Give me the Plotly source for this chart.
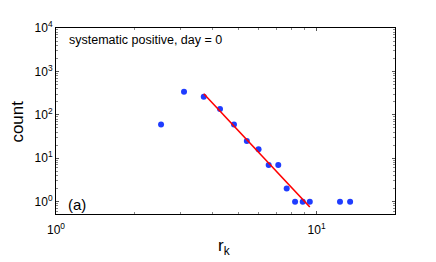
import numpy as np
import plotly.graph_objects as go

# data
r_k = [2.53, 3.10, 3.69, 4.26, 4.82, 5.40, 5.99, 6.55, 7.13, 7.68, 8.27, 8.85, 9.42, 12.3, 13.45]
counts = [60, 340, 260, 137, 60, 25, 16, 7, 7, 2, 1, 1, 1, 1, 1]
fit_x = [3.69, 9.42]
fit_y = [305, 0.75]

x_tickvals = [1, 10]
x_ticktext = ["10<sup>0</sup>", "10<sup>1</sup>"]
y_tickvals = [1, 10, 100, 1000, 10000]
y_ticktext = ["10<sup>0</sup>", "10<sup>1</sup>", "10<sup>2</sup>", "10<sup>3</sup>", "10<sup>4</sup>"]

FONT = "Liberation Sans, Arial, Helvetica, sans-serif"

fig = go.Figure()
fig.add_trace(go.Scatter(x=r_k, y=counts, mode="markers",
                         marker=dict(color="#1f3cff", size=6, line=dict(width=0)),
                         showlegend=False))
fig.add_trace(go.Scatter(x=fit_x, y=fit_y, mode="lines",
                         line=dict(color="#ff0000", width=1.6),
                         showlegend=False))

axis_common = dict(
    showline=True, linecolor="black", linewidth=1, mirror="ticks",
    ticks="inside", ticklen=3, tickcolor="#555", tickwidth=1,
    showgrid=False, zeroline=False,
    tickfont=dict(family=FONT, size=12, color="black"),
    minor=dict(ticks="inside", ticklen=2, tickcolor="#888", dtick="D1", showgrid=False),
)

fig.update_xaxes(type="log", range=[0, np.log10(20)], tickvals=x_tickvals,
                 ticktext=x_ticktext, ticklabelstandoff=5, **axis_common)
fig.update_yaxes(type="log", range=[-0.285, 4], tickvals=y_tickvals,
                 ticktext=y_ticktext, **axis_common)

fig.add_annotation(text="systematic positive, day = 0", xref="paper", yref="paper",
                   x=0.033, y=0.938, xanchor="left", yanchor="middle", showarrow=False,
                   font=dict(family=FONT, size=12.5, color="black"))
fig.add_annotation(text="(a)", xref="paper", yref="paper",
                   x=0.03, y=0.05, xanchor="left", yanchor="middle", showarrow=False,
                   font=dict(family=FONT, size=15, color="black"))
fig.add_annotation(text="count", xref="paper", yref="paper",
                   x=-0.112, y=0.497, xanchor="center", yanchor="middle", showarrow=False,
                   textangle=-90, font=dict(family=FONT, size=17, color="black"))
fig.add_annotation(text="r<sub>k</sub>", xref="paper", yref="paper",
                   x=0.495, y=-0.18, xanchor="center", yanchor="middle", showarrow=False,
                   font=dict(family=FONT, size=17, color="black"))

# the page body adds an 8px offset; the figure is sized to fit the rest of the window
fig.update_layout(width=428, height=254,
                  margin=dict(l=48, r=41, t=11, b=48),
                  paper_bgcolor="white", plot_bgcolor="white",
                  font=dict(family=FONT, color="black"))

fig.write_html("out.html")
